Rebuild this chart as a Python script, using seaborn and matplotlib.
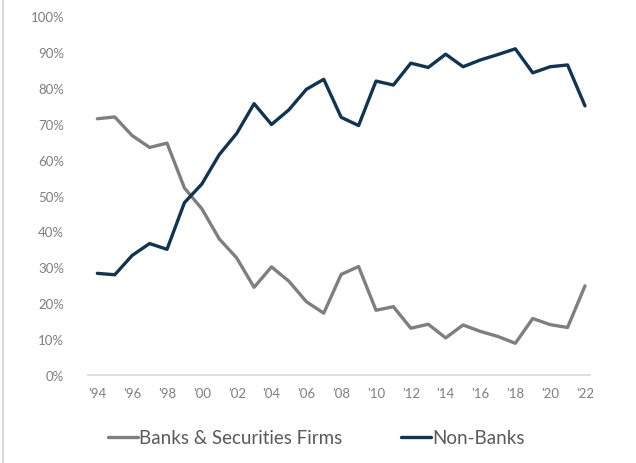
import matplotlib
matplotlib.use("Agg")
import matplotlib.pyplot as plt
import seaborn as sns
import pandas as pd
from matplotlib.ticker import PercentFormatter

years = list(range(1994, 2023))
banks = [71.4, 71.9, 66.7, 63.4, 64.6, 52.1, 46.3, 37.9, 32.6, 24.4, 30.1, 26.1, 20.4, 17.2,
         28.0, 30.2, 18.0, 19.0, 13.0, 14.1, 10.3, 13.9, 12.1, 10.7, 8.8, 15.7, 14.0, 13.2, 24.8]
nonbanks = [28.3, 27.9, 33.3, 36.6, 35.0, 48.0, 53.2, 61.4, 67.3, 75.6, 69.8, 73.9, 79.6, 82.4,
            71.8, 69.5, 81.9, 80.8, 86.9, 85.7, 89.4, 85.9, 87.8, 89.3, 90.9, 84.2, 85.9, 86.4, 75.0]
series_names = ["Banks & Securities Firms", "Non-Banks"]
tick_years = list(range(1994, 2023, 2))
tick_labels = ["'" + str(y)[2:] for y in tick_years]

df = pd.DataFrame({"year": years * 2,
                   "share": [v / 100 for v in banks] + [v / 100 for v in nonbanks],
                   "series": [series_names[0]] * len(years) + [series_names[1]] * len(years)})

sns.set_style("white")
plt.rcParams["font.family"] = ["Lato", "DejaVu Sans"]

fig = plt.figure(figsize=(6.36, 4.64), dpi=100)
ax = fig.add_axes([0.138, 0.19, 0.79, 0.773])
sns.lineplot(data=df, x="year", y="share", hue="series",
             palette={series_names[0]: "#7f7f7f", series_names[1]: "#0f3552"},
             linewidth=2.4, ax=ax, legend=True)

ax.set_xlim(1993.45, 2022.3)
ax.set_ylim(0, 1.0)
ax.set_yticks([i / 10 for i in range(11)])
ax.yaxis.set_major_formatter(PercentFormatter(1.0, decimals=0))
ax.set_xticks(tick_years)
ax.set_xticklabels(tick_labels)
ax.set_xlabel("")
ax.set_ylabel("")
for s in ["top", "right", "left"]:
    ax.spines[s].set_visible(False)
ax.spines["bottom"].set_color("#d9d9d9")
ax.spines["bottom"].set_linewidth(1.2)
ax.tick_params(axis="both", length=0, labelsize=9.5, labelcolor="#7f7f7f")
ax.tick_params(axis="y", pad=17)
ax.tick_params(axis="x", pad=9)

leg = ax.legend(loc="upper center", bbox_to_anchor=(0.455, -0.105), ncol=2, frameon=False,
                fontsize=13.5, handlelength=1.6, handletextpad=0.1, columnspacing=3.1)
for t in leg.get_texts():
    t.set_color("#595959")

fig.add_artist(plt.Line2D([0.005, 0.005], [0, 1], color="#d9d9d9", linewidth=1.5))

fig.savefig("out.png", dpi=100)
